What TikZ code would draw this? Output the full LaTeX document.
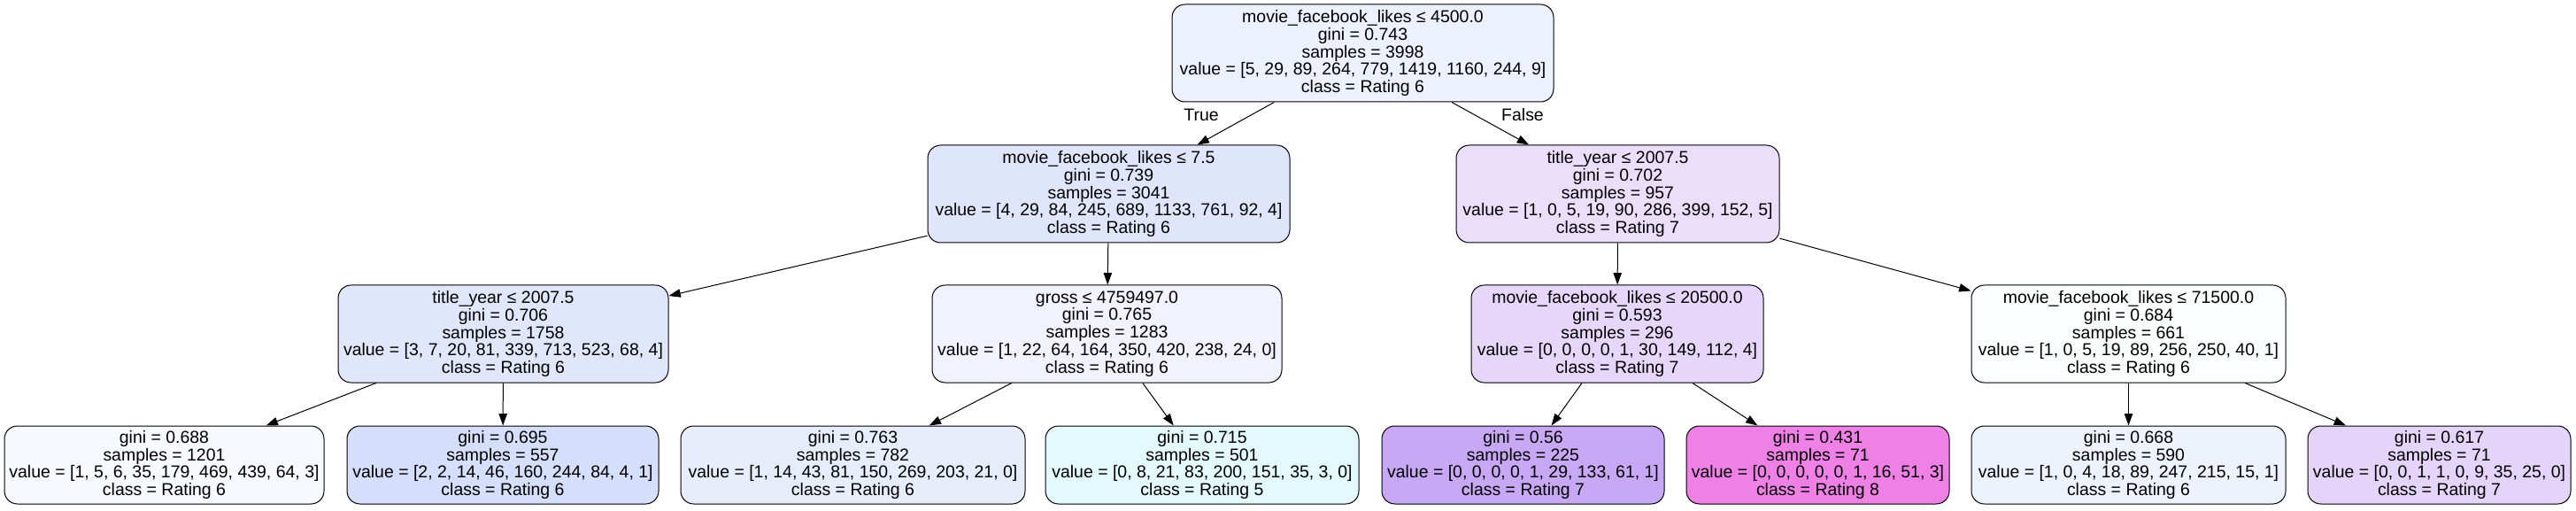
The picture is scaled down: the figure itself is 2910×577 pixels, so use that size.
\documentclass[tikz,border=0pt]{standalone}
\usepackage{fontspec}
\setmainfont{Liberation Sans}
\usetikzlibrary{arrows.meta}
\definecolor{c0}{RGB}{237,241,253}
\definecolor{c1a}{RGB}{223,230,251}
\definecolor{c1b}{RGB}{234,222,251}
\definecolor{c2a}{RGB}{225,231,251}
\definecolor{c2b}{RGB}{240,243,253}
\definecolor{c2c}{RGB}{230,215,250}
\definecolor{c2d}{RGB}{252,253,255}
\definecolor{c31}{RGB}{247,249,254}
\definecolor{c32}{RGB}{213,222,250}
\definecolor{c33}{RGB}{232,237,252}
\definecolor{c34}{RGB}{227,249,251}
\definecolor{c35}{RGB}{200,168,244}
\definecolor{c36}{RGB}{239,129,230}
\definecolor{c37}{RGB}{238,242,253}
\definecolor{c38}{RGB}{228,212,249}
\begin{document}
\begin{tikzpicture}[x=0.75pt,y=-0.75pt,
  tnode/.style={draw=black, line width=0.75pt, rounded corners=11pt, align=center, inner sep=0pt, font=\fontsize{14.6pt}{14.9pt}\selectfont},
  split/.style={tnode, minimum height=82.5pt},
  leaf/.style={tnode, minimum height=66pt},
  edge/.style={line width=0.75pt, -{Triangle[length=10pt,width=7pt]}},
  lbl/.style={font=\fontsize{14.6pt}{14.9pt}\selectfont, inner sep=0pt}
]
\useasboundingbox (0,0) rectangle (2910,577);
\fill[white] (0,0) rectangle (2910,577);

\node[split, fill=c0, minimum width=323.25pt] (root) at (1539.5,60)
  {movie\_facebook\_likes ≤ 4500.0\\gini = 0.743\\samples = 3998\\value = [5, 29, 89, 264, 779, 1419, 1160, 244, 9]\\class = Rating 6};

\node[split, fill=c1a, minimum width=306.75pt] (l1a) at (1252.5,219)
  {movie\_facebook\_likes ≤ 7.5\\gini = 0.739\\samples = 3041\\value = [4, 29, 84, 245, 689, 1133, 761, 92, 4]\\class = Rating 6};
\node[split, fill=c1b, minimum width=273.75pt] (l1b) at (1827.5,219)
  {title\_year ≤ 2007.5\\gini = 0.702\\samples = 957\\value = [1, 0, 5, 19, 90, 286, 399, 152, 5]\\class = Rating 7};

\node[split, fill=c2a, minimum width=279.75pt] (l2a) at (568.5,377)
  {title\_year ≤ 2007.5\\gini = 0.706\\samples = 1758\\value = [3, 7, 20, 81, 339, 713, 523, 68, 4]\\class = Rating 6};
\node[split, fill=c2b, minimum width=296.25pt] (l2b) at (1250.5,377)
  {gross ≤ 4759497.0\\gini = 0.765\\samples = 1283\\value = [1, 22, 64, 164, 350, 420, 238, 24, 0]\\class = Rating 6};
\node[split, fill=c2c, minimum width=247.5pt] (l2c) at (1827,377)
  {movie\_facebook\_likes ≤ 20500.0\\gini = 0.593\\samples = 296\\value = [0, 0, 0, 0, 1, 30, 149, 112, 4]\\class = Rating 7};
\node[split, fill=c2d, minimum width=266.25pt] (l2d) at (2404.5,377)
  {movie\_facebook\_likes ≤ 71500.0\\gini = 0.684\\samples = 661\\value = [1, 0, 5, 19, 89, 256, 250, 40, 1]\\class = Rating 6};

\node[leaf, fill=c31, minimum width=270.75pt] (f1) at (185.5,525)
  {gini = 0.688\\samples = 1201\\value = [1, 5, 6, 35, 179, 469, 439, 64, 3]\\class = Rating 6};
\node[leaf, fill=c32, minimum width=264pt] (f2) at (568,525)
  {gini = 0.695\\samples = 557\\value = [2, 2, 14, 46, 160, 244, 84, 4, 1]\\class = Rating 6};
\node[leaf, fill=c33, minimum width=291.75pt] (f3) at (963.5,525)
  {gini = 0.763\\samples = 782\\value = [1, 14, 43, 81, 150, 269, 203, 21, 0]\\class = Rating 6};
\node[leaf, fill=c34, minimum width=265.5pt] (f4) at (1358,525)
  {gini = 0.715\\samples = 501\\value = [0, 8, 21, 83, 200, 151, 35, 3, 0]\\class = Rating 5};
\node[leaf, fill=c35, minimum width=239.25pt] (f5) at (1720.5,525)
  {gini = 0.56\\samples = 225\\value = [0, 0, 0, 0, 1, 29, 133, 61, 1]\\class = Rating 7};
\node[leaf, fill=c36, minimum width=222.75pt] (f6) at (2053.5,525)
  {gini = 0.431\\samples = 71\\value = [0, 0, 0, 0, 0, 1, 16, 51, 3]\\class = Rating 8};
\node[leaf, fill=c37, minimum width=266.25pt] (f7) at (2404.5,525)
  {gini = 0.668\\samples = 590\\value = [1, 0, 4, 18, 89, 247, 215, 15, 1]\\class = Rating 6};
\node[leaf, fill=c38, minimum width=222.75pt] (f8) at (2755.5,525)
  {gini = 0.617\\samples = 71\\value = [0, 0, 1, 1, 0, 9, 35, 25, 0]\\class = Rating 7};

\draw[edge] (root) -- (l1a);
\draw[edge] (root) -- (l1b);
\draw[edge] (l1a) -- (l2a);
\draw[edge] (l1a) -- (l2b);
\draw[edge] (l1b) -- (l2c);
\draw[edge] (l1b) -- (l2d);
\draw[edge] (l2a) -- (f1);
\draw[edge] (l2a) -- (f2);
\draw[edge] (l2b) -- (f3);
\draw[edge] (l2b) -- (f4);
\draw[edge] (l2c) -- (f5);
\draw[edge] (l2c) -- (f6);
\draw[edge] (l2d) -- (f7);
\draw[edge] (l2d) -- (f8);

\node[lbl] (truelbl) at (1357,130) {True};
\node[lbl] (falselbl) at (1720,130) {False};
\end{tikzpicture}
\end{document}
